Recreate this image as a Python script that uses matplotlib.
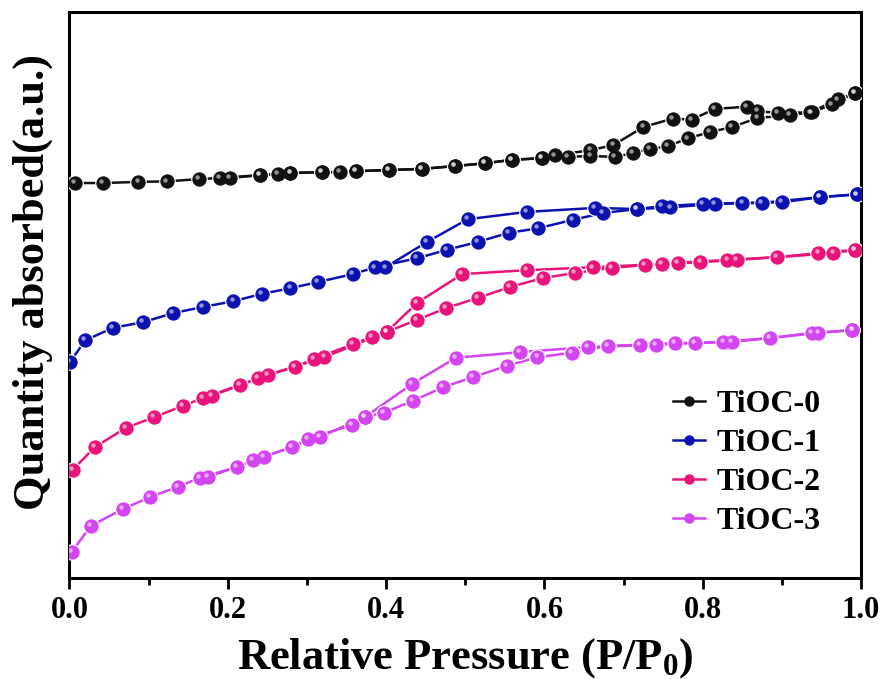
import matplotlib
matplotlib.use("Agg")
import matplotlib.pyplot as plt
from matplotlib.lines import Line2D
from matplotlib.transforms import offset_copy
from matplotlib.ticker import MultipleLocator, NullLocator, FormatStrFormatter

plt.rcParams["font.family"] = ["Liberation Serif", "DejaVu Serif"]
plt.rcParams["font.weight"] = "bold"
plt.rcParams["mathtext.fontset"] = "custom"
plt.rcParams["mathtext.rm"] = "Liberation Serif:bold"
plt.rcParams["mathtext.it"] = "Liberation Serif:bold"
plt.rcParams["mathtext.bf"] = "Liberation Serif:bold"

labels = ["TiOC-0", "TiOC-1", "TiOC-2", "TiOC-3"]
colors = ["#111111", "#0c12b0", "#e8147a", "#d445f2"]

# TiOC-0
ads0_x = [0.007, 0.042, 0.087, 0.123, 0.164, 0.190, 0.241, 0.279, 0.319, 0.362,
          0.404, 0.445, 0.487, 0.525, 0.559, 0.597, 0.630, 0.658, 0.689, 0.712,
          0.733, 0.756, 0.781, 0.809, 0.837, 0.869, 0.910, 0.936, 0.971, 0.992]
ads0_y = [69.8, 69.8, 70.0, 70.1, 70.5, 70.7, 71.2, 71.6, 71.7, 71.9,
          72.1, 72.3, 72.8, 73.3, 73.9, 74.2, 74.4, 74.6, 74.4, 75.1,
          75.8, 76.3, 77.7, 78.8, 79.7, 81.3, 81.8, 82.3, 84.6, 85.7]
des0_x = [0.992, 0.963, 0.938, 0.895, 0.869, 0.856, 0.815, 0.786, 0.762, 0.725,
          0.687, 0.658, 0.613, 0.597, 0.559, 0.525, 0.487, 0.445, 0.404, 0.362,
          0.342, 0.319, 0.279, 0.263, 0.241, 0.203]
des0_y = [85.7, 83.7, 82.3, 82.2, 82.5, 83.3, 82.9, 81.0, 81.2, 79.7,
          76.5, 75.6, 74.7, 74.2, 73.9, 73.3, 72.8, 72.3, 72.1, 71.9,
          71.7, 71.7, 71.6, 71.4, 71.2, 70.7]

# TiOC-1
ads1_x = [0.001, 0.020, 0.055, 0.093, 0.131, 0.169, 0.207, 0.243, 0.279, 0.314,
          0.358, 0.386, 0.439, 0.477, 0.516, 0.555, 0.592, 0.636, 0.674, 0.717,
          0.748, 0.800, 0.850, 0.900, 0.948, 0.995]
ads1_y = [38.2, 42.0, 44.2, 45.2, 46.8, 47.9, 48.9, 50.2, 51.2, 52.3,
          53.7, 54.9, 56.5, 58.0, 59.4, 61.0, 61.8, 63.3, 64.5, 65.2,
          65.7, 66.1, 66.3, 66.4, 67.3, 67.8]
des1_x = [0.995, 0.948, 0.875, 0.815, 0.759, 0.717, 0.664, 0.578, 0.503, 0.452, 0.399]
des1_y = [67.8, 67.3, 66.3, 66.1, 65.5, 65.2, 65.4, 64.7, 63.4, 59.4, 54.9]

# TiOC-2
ads2_x = [0.004, 0.032, 0.071, 0.107, 0.143, 0.169, 0.215, 0.238, 0.285, 0.309,
          0.358, 0.382, 0.401, 0.439, 0.476, 0.516, 0.556, 0.598, 0.638, 0.685,
          0.727, 0.769, 0.831, 0.894, 0.946, 0.992]
ads2_y = [19.1, 23.1, 26.5, 28.4, 30.4, 31.8, 34.1, 35.3, 37.3, 38.7,
          41.3, 42.6, 43.5, 45.6, 47.7, 49.5, 51.4, 53.0, 53.9, 54.8,
          55.3, 55.7, 56.2, 56.7, 57.4, 58.0]
des2_x = [0.992, 0.965, 0.843, 0.797, 0.748, 0.661, 0.578, 0.496, 0.439, 0.401,
          0.322, 0.251, 0.180]
des2_y = [58.0, 57.4, 56.2, 55.8, 55.5, 54.9, 54.4, 53.7, 48.6, 43.5,
          39.0, 35.9, 32.2]

# TiOC-3
ads3_x = [0.003, 0.027, 0.068, 0.102, 0.137, 0.165, 0.212, 0.232, 0.281, 0.301,
          0.357, 0.373, 0.397, 0.434, 0.472, 0.510, 0.553, 0.591, 0.635, 0.680,
          0.721, 0.765, 0.826, 0.885, 0.938, 0.989]
ads3_y = [4.6, 9.2, 12.2, 14.3, 16.1, 17.7, 19.6, 20.8, 23.1, 24.6,
          27.0, 28.4, 29.2, 31.3, 33.7, 35.5, 37.5, 39.0, 39.8, 41.0,
          41.2, 41.5, 41.7, 42.4, 43.3, 43.8]
des3_x = [0.989, 0.946, 0.837, 0.790, 0.741, 0.655, 0.569, 0.488, 0.433, 0.373,
          0.316, 0.246, 0.175]
des3_y = [43.8, 43.3, 41.7, 41.5, 41.2, 40.8, 39.9, 38.9, 34.3, 28.4,
          24.9, 21.4, 17.8]

branches = [
    (ads0_x, ads0_y, des0_x, des0_y),
    (ads1_x, ads1_y, des1_x, des1_y),
    (ads2_x, ads2_y, des2_x, des2_y),
    (ads3_x, ads3_y, des3_x, des3_y),
]

fig = plt.figure(figsize=(8.85, 6.79), dpi=100)
ax = fig.add_axes([0.0785, 0.149, 0.8945, 0.833])

glint = offset_copy(ax.transData, fig=fig, x=-1.3, y=1.3, units="points")


def draw_branch(xs, ys, color):
    ax.plot(xs, ys, "-", color=color, lw=1.8, zorder=2)
    # white halo leaves a small gap between the line and each ball
    ax.plot(xs, ys, linestyle="none", marker="o", ms=12.0, mfc="white",
            mec="none", zorder=3)
    ax.plot(xs, ys, linestyle="none", marker="o", ms=9.5,
            mfc=color, mec=color, mew=0.8, zorder=4)
    # small light spot on every ball for a shaded look
    ax.plot(xs, ys, linestyle="none", marker="o", ms=3.2, mfc="white",
            mec="none", alpha=0.55, transform=glint, zorder=5)


for (ax_x, ax_y, dx, dy), c in zip(branches, colors):
    draw_branch(ax_x, ax_y, c)
    draw_branch(dx, dy, c)

handles = [Line2D([], [], color=c, lw=1.8, marker="o", ms=6.5, mfc=c, mec=c)
           for c in colors]

ax.set_xlim(0.0, 1.0)
ax.set_ylim(0, 100)
ax.xaxis.set_major_locator(MultipleLocator(0.2))
ax.xaxis.set_minor_locator(MultipleLocator(0.1))
ax.yaxis.set_major_locator(NullLocator())
ax.yaxis.set_minor_locator(NullLocator())
ax.tick_params(axis="x", which="major", direction="out", length=8, width=2,
               labelsize=22, pad=5, top=False)
ax.tick_params(axis="x", which="minor", direction="out", length=5, width=2, top=False)
ax.xaxis.set_major_formatter(FormatStrFormatter("%.1f"))
for lab in ax.get_xticklabels():
    lab.set_fontweight("bold")
for sp in ax.spines.values():
    sp.set_linewidth(2.2)

ax.set_xlabel("Relative Pressure (P/P$_0$)", fontsize=32, fontweight="bold", labelpad=8)
ax.set_ylabel("Quantity absorbed(a.u.)", fontsize=32, fontweight="bold")
ax.yaxis.set_label_coords(-0.021, 0.523)

leg = ax.legend(handles, labels, loc="lower right", bbox_to_anchor=(0.985, 0.023),
                frameon=False, fontsize=23, handlelength=1.0, handletextpad=0.35,
                labelspacing=0.3)
for t in leg.get_texts():
    t.set_fontweight("bold")

fig.savefig("out.png", dpi=100)
